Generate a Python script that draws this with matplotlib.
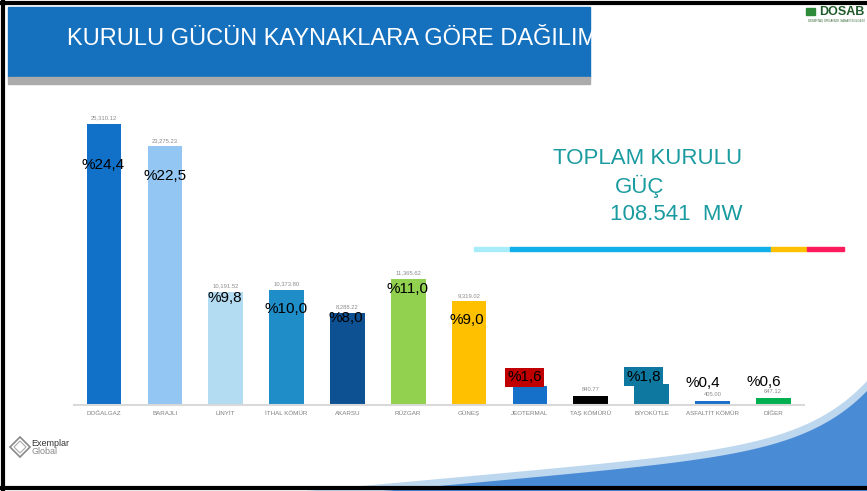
import matplotlib.pyplot as plt
from matplotlib.patches import Rectangle, Polygon
import numpy as np

plt.rcParams['font.family'] = ['Liberation Sans', 'DejaVu Sans']

categories = ['DOĞALGAZ', 'BARAJLI', 'LİNYİT', 'İTHAL KÖMÜR', 'AKARSU', 'RÜZGAR',
              'GÜNEŞ', 'JEOTERMAL', 'TAŞ KÖMÜRÜ', 'BİYOKÜTLE', 'ASFALTİT KÖMÜR', 'DİĞER']
values = [25310.12, 23275.23, 10191.52, 10373.80, 8288.22, 11365.62,
          9319.02, 1691.00, 840.77, 1915.00, 405.00, 647.12]
shares = ['%24,4', '%22,5', '%9,8', '%10,0', '%8,0', '%11,0',
          '%9,0', '%1,6', '', '%1,8', '%0,4', '%0,6']
colors = ['#1170C8', '#93C6F2', '#B3DBF2', '#1F8DC8', '#0D5193', '#92D050',
          '#FFC000', '#1470C8', '#000000', '#0F78A0', '#1B6FC8', '#00B050']
# label offsets in pixels relative to the bar top
share_dx = [-1, 0, -1, 0, -2, -1, -2, -5, 0, -8, -10, -9]
share_dy = [-41, -30, -6, -19, -5, -10, -19, 9, 0, 7, 18, 16]
share_box = [None, None, None, None, None, None, None, '#C00000', None, '#0F78A0', None, None]

W, H = 867, 491
fig = plt.figure(figsize=(W / 100, H / 100), dpi=100)
fig.patch.set_facecolor('white')

# background decorations (figure pixel coords)
bg = fig.add_axes([0, 0, 1, 1], zorder=0)
bg.set_xlim(0, W)
bg.set_ylim(H, 0)
bg.axis('off')
header = Rectangle((8, 7), 582, 70, color='#1570BE')
bg.add_patch(header)
bg.add_patch(Rectangle((8, 77), 582, 7, color='#ABABAB'))
title = bg.text(67, 39, 'KURULU GÜCÜN KAYNAKLARA GÖRE DAĞILIMI', color='white', fontsize=17,
                va='center', ha='left')
title.set_clip_path(header)

# swoosh bottom right
sx = np.linspace(250, W, 300)
y_light = np.minimum(491 - 0.09 * (sx - 300) - 60 * np.exp((sx - W) / 60), H)
y_dark = np.minimum(498 - 0.09 * (sx - 300) - 57 * np.exp((sx - W) / 60), H)
bg.fill_between(sx, y_light, H, color='#BDD7EE', lw=0)
bg.fill_between(sx, y_dark, H, color='#4A8BD6', lw=0)

bg.plot([0, W], [2.5, 2.5], color='black', lw=3)
bg.plot([2.5, 2.5], [0, H], color='black', lw=3)
bg.plot([0, W], [488, 488], color='black', lw=3)

# DOSAB logo
bg.text(864, 12, 'DOSAB', color='#1F5A2A', fontsize=9, fontweight='bold',
        ha='right', va='center')
bg.text(864, 21, 'DEMİRTAŞ ORGANİZE SANAYİ BÖLGESİ', color='#3A6A3A', fontsize=2.2,
        ha='right', va='center')
bg.add_patch(Rectangle((806, 8), 9, 7, color='#2E8B3A'))

# Exemplar Global logo
bg.add_patch(Polygon([(10, 447), (20, 437), (30, 447), (20, 457)], fill=False,
                     edgecolor='#888888', lw=1.2))
bg.add_patch(Polygon([(14, 447), (20, 441), (26, 447), (20, 453)], fill=False,
                     edgecolor='#AAAAAA', lw=0.8))
bg.text(31, 444, 'Exemplar', fontsize=6.5, color='#333333', va='center')
bg.text(31, 452, 'Global', fontsize=6.5, color='#888888', va='center')

# total text
bg.text(648, 158, 'TOPLAM KURULU', color='#1A9BA0', fontsize=16, ha='center', va='center')
bg.text(640, 186, 'GÜÇ', color='#1A9BA0', fontsize=16, ha='center', va='center')
bg.text(676, 215, '108.541  MW', color='#1A9BA0', fontsize=16, ha='center', va='center')
for x0, x1, c in [(474, 510, '#A8ECFA'), (510, 771, '#12B0EA'),
                  (771, 807, '#FFC000'), (807, 844, '#FF1C5C')]:
    bg.add_patch(Rectangle((x0, 247), x1 - x0, 4, color=c))

# bar chart
ax = fig.add_axes([73.6 / W, 1 - 405 / H, 730 / W, 311 / H], zorder=1)
ax.patch.set_alpha(0)
x = np.arange(len(categories))
ax.bar(x, values, width=0.57, color=colors, zorder=2)
ax.set_xlim(-0.5, len(categories) - 0.5)
ax.set_ylim(0, 28000)
for s in ['top', 'right', 'left']:
    ax.spines[s].set_visible(False)
ax.spines['bottom'].set_color('#D9D9D9')
ax.spines['bottom'].set_linewidth(1.5)
ax.set_yticks([])
ax.set_xticks(x)
ax.set_xticklabels(categories, fontsize=4.5, color='#7F7F7F')
ax.tick_params(axis='x', length=0, pad=4)

for i, v in enumerate(values):
    if share_box[i] is None:
        ax.annotate(f'{v:,.2f}', (x[i], v), xytext=(0, 6), textcoords='offset pixels',
                    ha='center', va='center', fontsize=4.2, color='#8C8C8C', zorder=3)
    if shares[i]:
        box = None
        if share_box[i]:
            box = dict(boxstyle='square,pad=0.15', fc=share_box[i], ec='none')
        ax.annotate(shares[i], (x[i], v), xytext=(share_dx[i], share_dy[i]),
                    textcoords='offset pixels', ha='center', va='center',
                    fontsize=11, color='black', bbox=box, zorder=4)

fig.savefig('out.png', dpi=100)
